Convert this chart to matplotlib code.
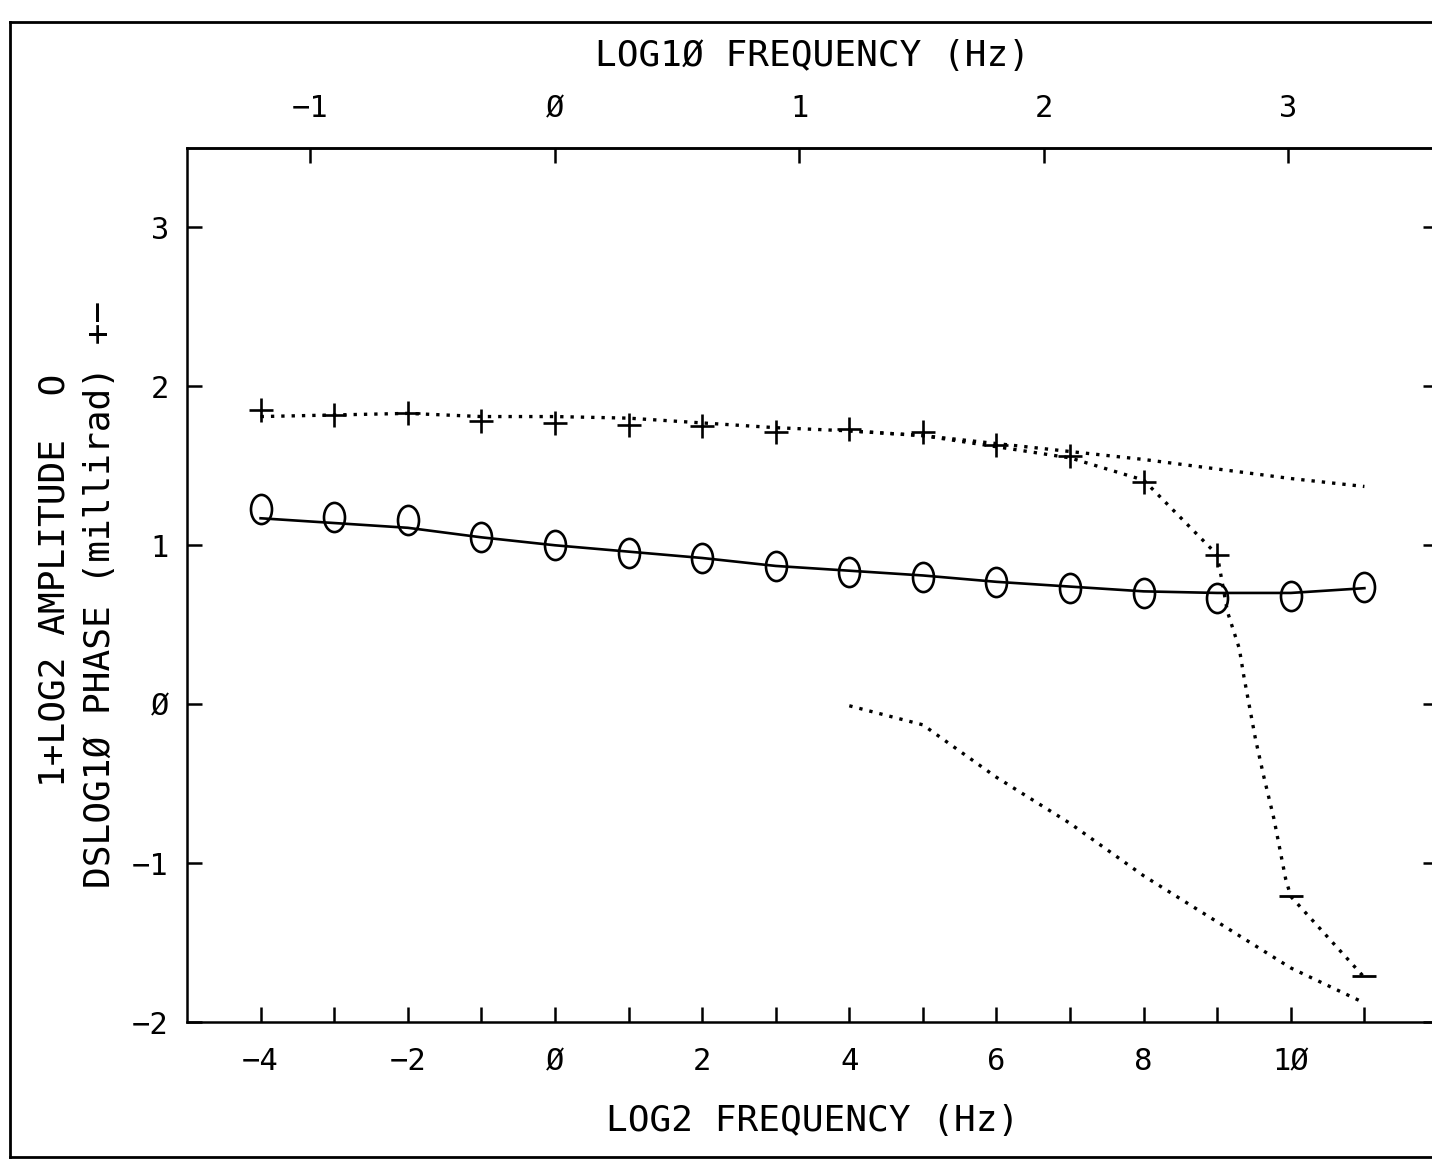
import numpy as np
import matplotlib.pyplot as plt
from matplotlib.path import Path
from matplotlib.transforms import Affine2D
from matplotlib.lines import Line2D

plt.rcParams['font.family'] = ['DejaVu Sans Mono', 'DejaVu Sans']

# log2 frequency of every measurement
freq_log2 = [-4, -3, -2, -1, 0, 1, 2, 3, 4, 5, 6, 7, 8, 9, 10, 11]

# amplitude (1 + log2), marker positions and the drawn line
amp_marks = [1.23, 1.18, 1.16, 1.05, 1.00, 0.95, 0.92, 0.87, 0.83, 0.80,
             0.77, 0.73, 0.70, 0.67, 0.68, 0.74]
amp_line = [1.17, 1.14, 1.11, 1.05, 1.00, 0.96, 0.92, 0.87, 0.84, 0.81,
            0.77, 0.74, 0.71, 0.70, 0.70, 0.73]

# phase (dslog10), markers
phase_marks = [1.85, 1.82, 1.83, 1.78, 1.77, 1.76, 1.75, 1.71, 1.73, 1.71,
               1.63, 1.56, 1.40, 0.94, -1.21, -1.71]

# phase dotted curve
phase_line_x = [-4, -3, -2, -1, 0, 1, 2, 3, 4, 5, 6, 7, 8, 9, 9.14, 9.3,
                9.36, 9.52, 9.63, 9.77, 9.85, 9.93, 10, 11]
phase_line_y = [1.81, 1.82, 1.83, 1.81, 1.81, 1.80, 1.77, 1.74, 1.72, 1.69,
                1.62, 1.55, 1.41, 0.94, 0.58, 0.35, 0.18, -0.22, -0.45,
                -0.72, -0.91, -1.10, -1.21, -1.72]

# the two other dotted curves from log2 f = 4 on
fit_x = [4, 5, 6, 7, 8, 9, 10, 11]
fit_upper = [1.72, 1.69, 1.64, 1.59, 1.54, 1.48, 1.42, 1.37]
fit_lower = [-0.01, -0.13, -0.46, -0.75, -1.08, -1.37, -1.66, -1.88]

xticks_bottom = [-4, -2, 0, 2, 4, 6, 8, 10]
yticks = [-2, -1, 0, 1, 2, 3]
xticks_top = [-1, 0, 1, 2, 3]


def zlabel(v):
    # plotter style slashed zero
    s = str(v).replace('0', 'Ø')
    return s.replace('-', '−')


fig = plt.figure(figsize=(14.32, 11.61), dpi=100)
ax = fig.add_axes([187 / 1432, 139 / 1161, 1251 / 1432, 874 / 1161])

ax.set_xlim(-5, 12)
ax.set_ylim(-2, 3.5)

# ellipse "O" marker
oval = Path.unit_circle().transformed(Affine2D().scale(0.72, 1.0))

dots = dict(color='black', lw=2.4, linestyle=(0, (1.0, 2.1)))
ax.plot(phase_line_x, phase_line_y, **dots)
ax.plot(fit_x, fit_upper, **dots)
ax.plot(fit_x, fit_lower, **dots)

ax.plot(freq_log2, amp_line, color='black', lw=1.9)
ax.plot(freq_log2, amp_marks, linestyle='none', marker=oval, ms=21,
        mfc='none', mec='black', mew=1.9)

px = np.array(freq_log2)
py = np.array(phase_marks)
ax.plot(px[py >= 0], py[py >= 0], linestyle='none', marker='+', ms=17,
        mec='black', mew=1.9)
ax.plot(px[py < 0], py[py < 0], linestyle='none', marker='_', ms=17,
        mec='black', mew=2.0)

for s in ax.spines.values():
    s.set_linewidth(1.8)

ax.set_xticks(range(-4, 12), minor=True)
ax.set_xticks(xticks_bottom)
ax.set_xticklabels([zlabel(v) for v in xticks_bottom])
ax.set_yticks(yticks)
ax.set_yticklabels([zlabel(v) for v in yticks])
ax.tick_params(axis='both', which='both', direction='in', length=11,
               width=1.8, labelsize=22)
ax.tick_params(axis='x', which='both', top=False, pad=18)
ax.tick_params(axis='y', right=True, pad=13)

sec = ax.secondary_xaxis('top', functions=(lambda x: x * np.log10(2),
                                           lambda x: x / np.log10(2)))
sec.set_xticks(xticks_top)
sec.set_xticklabels([zlabel(v) for v in xticks_top])
sec.tick_params(direction='in', length=11, width=1.8, labelsize=22, pad=18)
sec.spines['top'].set_linewidth(1.8)

ax.set_xlabel('LOG2 FREQUENCY (Hz)', fontsize=26, labelpad=20)
sec.set_xlabel('LOG1Ø FREQUENCY (Hz)', fontsize=26, labelpad=20)

fig.text(55 / 1432, 1 - 580 / 1161, '1+LOG2 AMPLITUDE  O', rotation=90,
         fontsize=26, ha='center', va='center')
fig.text(100 / 1432, 1 - 594 / 1161, 'DSLOG1Ø PHASE (millirad) +−',
         rotation=90, fontsize=26, ha='center', va='center')

# outer frame of the scanned page
fl, ft, fb = 10 / 1432, 1 - 22 / 1161, 1 - 1157 / 1161
frame = dict(color='black', lw=2.0, transform=fig.transFigure)
fig.add_artist(Line2D([fl, fl], [fb, ft], **frame))
fig.add_artist(Line2D([fl, 1.0], [ft, ft], **frame))
fig.add_artist(Line2D([fl, 1.0], [fb, fb], **frame))

fig.savefig('out.png', dpi=100)
